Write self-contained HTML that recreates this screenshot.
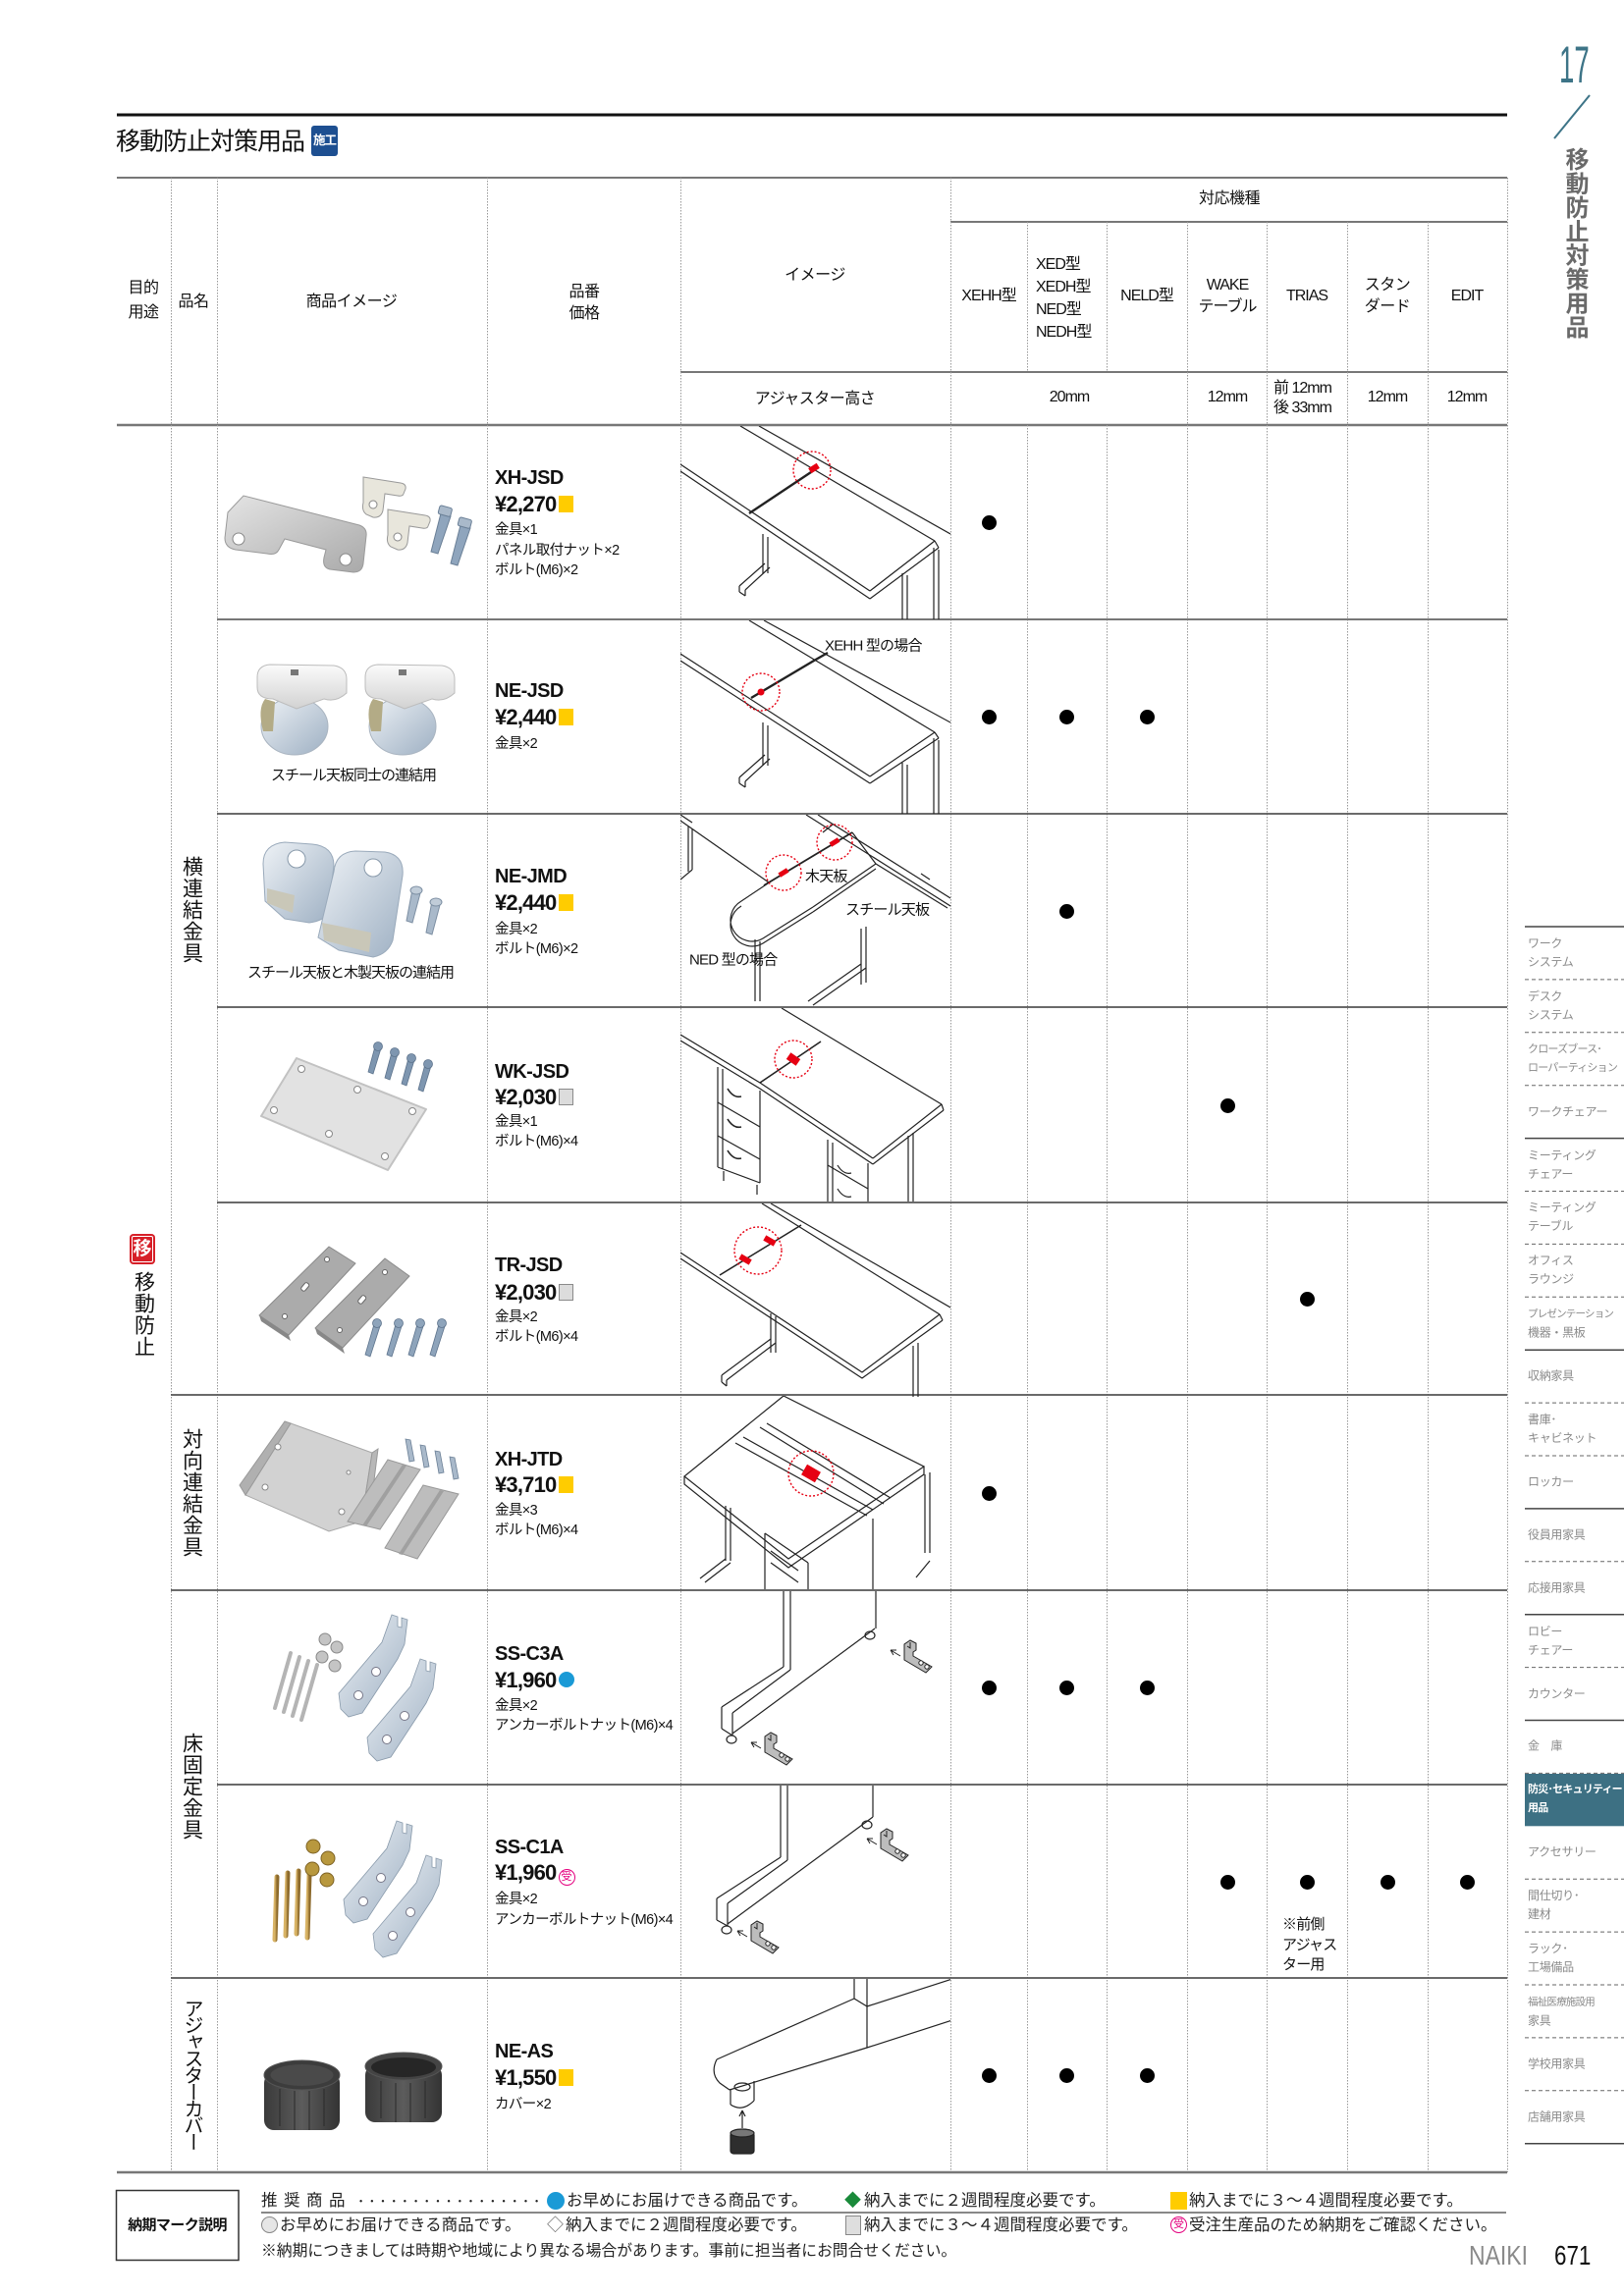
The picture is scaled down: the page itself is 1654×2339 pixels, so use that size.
<!DOCTYPE html>
<html><head><meta charset="utf-8">
<style>
html,body{margin:0;padding:0;background:#fff;}
#p{position:relative;width:1654px;height:2339px;overflow:hidden;background:#fff;font-family:"Liberation Sans","Noto Sans CJK JP",sans-serif;color:#111;}
.t{position:absolute;white-space:nowrap;line-height:1;}
.c{transform:translate(-50%,-50%);}
.l{transform:translateY(-50%);}
.h{font-size:16px;letter-spacing:-0.5px;}
.code{font-size:20px;font-weight:bold;letter-spacing:-0.6px;}
.price{font-size:22px;font-weight:bold;letter-spacing:-0.8px;}
.det{font-size:14.5px;letter-spacing:-0.6px;}
.v{position:absolute;writing-mode:vertical-rl;font-size:21px;line-height:21px;letter-spacing:1px;white-space:nowrap;}
.nav{position:absolute;left:1556px;font-size:12px;color:#8a8a8a;line-height:19px;letter-spacing:-0.3px;white-space:nowrap;transform:translateY(-50%);}
.dot{position:absolute;width:15px;height:15px;border-radius:50%;background:#000;}
.my{display:inline-block;width:15px;height:17px;background:#ffcc00;vertical-align:-1px;margin-left:2px;}
.mg{display:inline-block;width:13px;height:15px;background:#dcdcdc;border:1px solid #8a8a8a;vertical-align:-1px;margin-left:2px;}
.mb{display:inline-block;width:16px;height:16px;border-radius:50%;background:#1a9ad6;vertical-align:0px;margin-left:2px;}
.mj{display:inline-block;width:15px;height:15px;border-radius:50%;border:1.5px solid #e4007f;color:#e4007f;font-size:11px;line-height:15px;text-align:center;vertical-align:0px;margin-left:2px;font-weight:normal;letter-spacing:0;}
.lg{position:absolute;white-space:nowrap;line-height:1;font-size:16.5px;transform:translateY(-50%);color:#222;}
</style></head><body><div id="p">

<svg width="1654" height="2339" style="position:absolute;left:0;top:0" xmlns="http://www.w3.org/2000/svg">
<defs>
<clipPath id="cc"><rect x="0" y="0" width="275" height="197"/></clipPath>
<linearGradient id="gm" x1="0" y1="0" x2="1" y2="1"><stop offset="0" stop-color="#e4e4e4"/><stop offset="1" stop-color="#a9a9a9"/></linearGradient>
<linearGradient id="gb" x1="0" y1="0" x2="1" y2="1"><stop offset="0" stop-color="#eef2f6"/><stop offset="1" stop-color="#9eb0c3"/></linearGradient>
<linearGradient id="gw" x1="0" y1="0" x2="0" y2="1"><stop offset="0" stop-color="#fbfbfb"/><stop offset="1" stop-color="#d2d2d2"/></linearGradient>
<linearGradient id="gd" x1="0" y1="0" x2="1" y2="0"><stop offset="0" stop-color="#3a3a3a"/><stop offset="0.5" stop-color="#5c5c5c"/><stop offset="1" stop-color="#333"/></linearGradient>
<linearGradient id="gg" x1="0" y1="0" x2="1" y2="0"><stop offset="0" stop-color="#d9b466"/><stop offset="1" stop-color="#8c6a2c"/></linearGradient>
<g id="br" stroke="#222" stroke-width="1"><path d="M8 0 L14 3 L14 10 L11 12 L11 16 L30 27 L24 33 L2 20 L2 4 Z" fill="#bdbdbd"/><path d="M5 6 L8 8 L8 2" fill="none"/><circle cx="19" cy="23" r="2.2" fill="#fff"/><circle cx="25" cy="27" r="2.2" fill="#fff"/><path d="M-2 16 L-12 10 M-12 10 L-6 10 M-12 10 L-9 15" fill="none"/></g>
<g id="hook"><path d="M14 0 L20 2 L20 12 L24 13 L24 3 L30 5 L27 30 L20 45 L-16 100 L-30 104 L-38 96 L-40 80 L4 28 Z" fill="url(#gb)" stroke="#8899aa" stroke-width="0.8"/><circle cx="-2" cy="58" r="4.5" fill="#fff" stroke="#778"/><circle cx="-20" cy="82" r="4.5" fill="#fff" stroke="#778"/></g>
</defs>

<!-- title line -->
<line x1="119" y1="117" x2="1535" y2="117" stroke="#111" stroke-width="3"/>
<!-- table header lines -->
<line x1="119" y1="181" x2="1535" y2="181" stroke="#777" stroke-width="2"/>
<line x1="968" y1="226" x2="1535" y2="226" stroke="#777" stroke-width="2"/>
<line x1="693" y1="379" x2="1535" y2="379" stroke="#777" stroke-width="2"/>
<line x1="119" y1="433" x2="1535" y2="433" stroke="#777" stroke-width="2.5"/>

<!-- vertical dotted -->
<g stroke="#999" stroke-width="1" stroke-dasharray="1.5 1.5">
<line x1="174.5" y1="181" x2="174.5" y2="2213"/>
<line x1="221.5" y1="181" x2="221.5" y2="2213"/>
<line x1="496.5" y1="181" x2="496.5" y2="2213"/>
<line x1="693.5" y1="181" x2="693.5" y2="2213"/>
<line x1="968.5" y1="181" x2="968.5" y2="2213"/>
<line x1="1046.5" y1="226" x2="1046.5" y2="379"/><line x1="1046.5" y1="433" x2="1046.5" y2="2213"/>
<line x1="1127.5" y1="226" x2="1127.5" y2="379"/><line x1="1127.5" y1="433" x2="1127.5" y2="2213"/>
<line x1="1209.5" y1="226" x2="1209.5" y2="2213"/>
<line x1="1290.5" y1="226" x2="1290.5" y2="2213"/>
<line x1="1372.5" y1="226" x2="1372.5" y2="2213"/>
<line x1="1454.5" y1="226" x2="1454.5" y2="2213"/>
<line x1="1535.5" y1="181" x2="1535.5" y2="2213"/>
</g>

<!-- row lines -->
<g stroke="#555" stroke-width="1.8">
<line x1="221" y1="631" x2="1535" y2="631" stroke="#777" stroke-width="2"/>
<line x1="221" y1="829" x2="1535" y2="829"/>
<line x1="221" y1="1026" x2="1535" y2="1026"/>
<line x1="221" y1="1225" x2="1535" y2="1225"/>
<line x1="174" y1="1421" x2="1535" y2="1421"/>
<line x1="174" y1="1620" x2="1535" y2="1620"/>
<line x1="221" y1="1818" x2="1535" y2="1818"/>
<line x1="174" y1="2015" x2="1535" y2="2015"/>
</g>
<line x1="119" y1="2213" x2="1535" y2="2213" stroke="#777" stroke-width="2.5"/>

<!-- right slash -->
<line x1="1619" y1="97" x2="1583" y2="141" stroke="#3d7487" stroke-width="2"/>

<!-- nav lines -->
<g stroke="#444" stroke-width="1.5">
<line x1="1553" y1="944" x2="1654" y2="944"/>
<line x1="1553" y1="1159.6" x2="1654" y2="1159.6"/>
<line x1="1553" y1="1375.2" x2="1654" y2="1375.2"/>
<line x1="1553" y1="1536.9" x2="1654" y2="1536.9"/>
<line x1="1553" y1="1644.7" x2="1654" y2="1644.7"/>
<line x1="1553" y1="1752.5" x2="1654" y2="1752.5"/>
<line x1="1553" y1="2183.7" x2="1654" y2="2183.7"/>
</g>
<g stroke="#666" stroke-width="1" stroke-dasharray="4 3">
<line x1="1553" y1="997.9" x2="1654" y2="997.9"/>
<line x1="1553" y1="1051.8" x2="1654" y2="1051.8"/>
<line x1="1553" y1="1105.7" x2="1654" y2="1105.7"/>
<line x1="1553" y1="1213.5" x2="1654" y2="1213.5"/>
<line x1="1553" y1="1267.4" x2="1654" y2="1267.4"/>
<line x1="1553" y1="1321.3" x2="1654" y2="1321.3"/>
<line x1="1553" y1="1429.1" x2="1654" y2="1429.1"/>
<line x1="1553" y1="1483" x2="1654" y2="1483"/>
<line x1="1553" y1="1590.8" x2="1654" y2="1590.8"/>
<line x1="1553" y1="1698.6" x2="1654" y2="1698.6"/>
<line x1="1553" y1="1806.4" x2="1654" y2="1806.4"/>
<line x1="1553" y1="1914.2" x2="1654" y2="1914.2"/>
<line x1="1553" y1="1968.1" x2="1654" y2="1968.1"/>
<line x1="1553" y1="2022" x2="1654" y2="2022"/>
<line x1="1553" y1="2075.9" x2="1654" y2="2075.9"/>
<line x1="1553" y1="2129.8" x2="1654" y2="2129.8"/>
</g>
<rect x="1553" y="1807" width="101" height="53.3" fill="#3d7083"/>

<!-- legend -->
<rect x="118.5" y="2231.5" width="124.5" height="71" fill="none" stroke="#333" stroke-width="1.5"/>
<line x1="266" y1="2254" x2="1534" y2="2254" stroke="#888" stroke-width="2"/>

<!-- ============ DRAWINGS ============ -->
<!-- row1 -->
<g transform="translate(693,434)" clip-path="url(#cc)" stroke="#222" stroke-width="1.2" fill="none">
<path d="M61 0 L259 117 M80 0 L275 110 M0 39 L193 168 M0 46 L193 176 M193 168 L259 117 M193 176 L263 124 M259 117 L263 124"/>
<path d="M70 89 L136 45" stroke-width="2.4"/>
<path d="M84 110 V150 M89 113 V150 M60 163 L86 140 M66 167 L91 144 M60 163 V169 M66 167 V173 M60 169 L66 173"/>
<path d="M226 150 V198 M231 152 V198 M258 124 V198 M263 126 V198"/>
<rect x="-5" y="-3" width="10" height="6" transform="translate(136,43) rotate(-32)" fill="#e60012" stroke="none"/>
<circle cx="134" cy="45" r="19" stroke="#e60012" stroke-width="1.4" stroke-dasharray="2 2"/>
</g>
<!-- row2 -->
<g transform="translate(693,632)" clip-path="url(#cc)" stroke="#222" stroke-width="1.2" fill="none">
<path d="M70 0 L259 114 M85 0 L275 104 M0 34 L193 159 M0 41 L193 166 M193 159 L259 114 M193 166 L263 120 M259 114 L263 120"/>
<path d="M72 79 L136 41 L150 33" stroke-width="2.4"/>
<path d="M84 104 V148 M89 107 V148 M60 160 L86 137 M66 164 L91 141 M60 160 V166 M66 164 V170 M60 166 L66 170"/>
<path d="M226 145 V198 M231 147 V198 M258 120 V198 M263 122 V198"/>
<circle cx="82" cy="73" r="3.5" fill="#e60012" stroke="none"/>
<circle cx="82" cy="73" r="19" stroke="#e60012" stroke-width="1.4" stroke-dasharray="2 2"/>
</g>
<!-- row3 -->
<g transform="translate(693,830)" clip-path="url(#cc)" stroke="#222" stroke-width="1.2" fill="none">
<path d="M0 6 L90 69 M0 0 L12 8 M128 0 L275 93 M140 0 L275 85"/>
<path d="M85 72 L175 18" stroke-width="1.8"/>
<path d="M95 66 L62 88 A20 20 0 0 0 84 126 L135 94 M62 93 A20 20 0 0 0 84 131 L135 99"/>
<path d="M135 94 L199 50 L272 95 M135 99 L199 55 M175 18 L199 50"/>
<path d="M76 127 V190 M81 129 V190 M184 116 V173 M189 114 V171 M130 190 L184 152 M135 194 L189 156"/>
<path d="M8 12 V58 M12 14 V56 M0 66 L12 56"/>
<path d="M145 18 L155 10 M245 60 L254 66"/>
<rect x="-5" y="-2.5" width="10" height="5" transform="translate(105,59) rotate(-32)" fill="#e60012" stroke="none"/>
<rect x="-5" y="-2.5" width="10" height="5" transform="translate(157,28) rotate(-32)" fill="#e60012" stroke="none"/>
<circle cx="105" cy="59" r="18" stroke="#e60012" stroke-width="1.4" stroke-dasharray="2 2"/>
<circle cx="157" cy="28" r="18" stroke="#e60012" stroke-width="1.4" stroke-dasharray="2 2"/>
</g>
<!-- row4 -->
<g transform="translate(693,1027)" clip-path="url(#cc)" stroke="#222" stroke-width="1.2" fill="none">
<path d="M0 27 L81 76 M0 33 L81 82 M103 0 L266 98 M81 76 L196 153 M81 82 L196 159 M196 153 L266 98 M196 159 L268 104 M266 98 L268 104"/>
<path d="M81 76 L143 34" stroke-width="1.6"/>
<path d="M38 60 V162 M43 62 V164 M81 84 V178 M38 162 L81 178 M38 96 L81 121 M38 130 L81 154"/>
<path d="M48 82 q6 10 14 8 M48 113 q6 10 14 8 M48 145 q6 10 14 8" stroke-width="1.6"/>
<path d="M44 166 V176 M78 180 V190"/>
<path d="M150 134 V198 M155 137 V198 M191 158 V198 M150 160 L191 184 M160 160 q6 10 14 8 M160 184 q6 10 14 8" />
<path d="M232 130 V198 M237 127 V198"/>
<rect x="-6" y="-4" width="12" height="8" transform="translate(115,52) rotate(35)" fill="#e60012" stroke="none"/>
<circle cx="115" cy="52" r="19" stroke="#e60012" stroke-width="1.4" stroke-dasharray="2 2"/>
</g>
<!-- row5 -->
<g transform="translate(693,1226)" clip-path="url(#cc)" stroke="#222" stroke-width="1.2" fill="none">
<path d="M0 50 L185 172 M0 56 L185 178 M83 0 L264 113 M92 0 L275 106 M185 172 L264 113 M185 178 L267 119 M264 113 L267 119"/>
<path d="M40 73 L123 22" stroke-width="1.5"/>
<path d="M92 112 V152 M97 115 V152 M42 175 L92 138 M47 180 L97 142 M42 175 V182 M47 180 V186 M42 182 L47 186"/>
<path d="M237 145 V198 M242 142 V198"/>
<rect x="-6" y="-3" width="12" height="6" transform="translate(66,57) rotate(30)" fill="#e60012" stroke="none"/>
<rect x="-6" y="-3" width="12" height="6" transform="translate(91,38) rotate(30)" fill="#e60012" stroke="none"/>
<circle cx="79" cy="48" r="24" stroke="#e60012" stroke-width="1.4" stroke-dasharray="2 2"/>
</g>
<!-- row6 -->
<g transform="translate(693,1422)" clip-path="url(#cc)" stroke="#222" stroke-width="1.2" fill="none">
<path d="M105 0 L248 72 L110 166 L4 82 Z M4 82 V90 L110 175 L248 80 V72"/>
<path d="M64 42 L196 116 M81 32 L207 110 M56 48 L190 122 M88 28 L214 104"/>
<path d="M46 112 V168 M51 114 V168 M20 186 L46 166 M25 190 L51 170"/>
<path d="M254 78 V160 M249 80 V160 M240 185 L254 168"/>
<path d="M86 140 V198 M130 170 V198 M196 125 V198 M86 140 L130 170 M92 158 L120 178 M92 170 L120 190"/>
<rect x="-8" y="-6" width="16" height="12" transform="translate(133,79) rotate(30)" fill="#e60012" stroke="none"/>
<circle cx="133" cy="79" r="23" stroke="#e60012" stroke-width="1.4" stroke-dasharray="2 2"/>
</g>
<!-- row7 -->
<g transform="translate(693,1621)" clip-path="url(#cc)" stroke="#222" stroke-width="1.2" fill="none">
<path d="M105 0 V77 M112 0 V80 M105 77 L42 118 M112 80 L53 124 M42 118 V140 M53 124 V147 M42 140 L53 147 M53 145 L198 38 M199 0 V38"/>
<ellipse cx="52" cy="151" rx="5" ry="4"/><ellipse cx="193" cy="45" rx="5" ry="4"/>
<use href="#br" transform="translate(226,50)"/>
<use href="#br" transform="translate(84,144)"/>
</g>
<!-- row8 -->
<g transform="translate(693,1819)" clip-path="url(#cc)" stroke="#222" stroke-width="1.2" fill="none">
<path d="M102 0 V73 M109 0 V76 M102 73 L37 115 M109 76 L48 120 M37 115 V137 M48 120 V143 M37 137 L48 143 M48 141 L196 32 M196 0 V32"/>
<ellipse cx="47" cy="147" rx="5" ry="4"/><ellipse cx="190" cy="40" rx="5" ry="4"/>
<use href="#br" transform="translate(202,44)"/>
<use href="#br" transform="translate(70,138)"/>
</g>
<!-- row9 -->
<g transform="translate(693,2016)" clip-path="url(#cc)" stroke="#222" stroke-width="1.2" fill="none">
<path d="M177 0 V20 M190 0 V70 M37 82 L177 20 M190 28 L277 0 M50 113 L190 70 L277 42 M37 82 Q30 96 40 106 L50 113 M177 20 L190 28"/>
<path d="M51 112 V128 M75 104 V124 M51 128 Q63 136 75 124"/>
<ellipse cx="63" cy="110" rx="8" ry="4"/>
<path d="M63 152 V134 M63 134 L60 140 M63 134 L66 140"/>
<rect x="51" y="156" width="24" height="22" rx="3" fill="#2e2e2e"/>
<ellipse cx="63" cy="157" rx="12" ry="4" fill="#777"/>
</g>

<!-- ============ PHOTOS ============ -->
<!-- row1 -->
<g>
<path d="M232 522 L248 505 L366 535 Q374 538 373 546 L370 574 Q369 583 360 583 L336 580 Q328 578 330 568 L332 560 L290 549 L284 560 Q281 566 272 564 L240 560 Q229 558 229 548 Z" fill="url(#gm)" stroke="#9a9a9a"/>
<circle cx="243" cy="549" r="6" fill="#fff" stroke="#888"/><circle cx="352" cy="570" r="6" fill="#fff" stroke="#888"/>
<path d="M370 486 L408 492 Q414 493 413 498 L411 503 Q410 506 405 505 L392 503 L390 520 Q388 528 380 527 L373 524 Q368 520 370 512 Z" fill="#e8e6dc" stroke="#999"/>
<circle cx="380" cy="514" r="4" fill="#fff" stroke="#888"/>
<path d="M395 519 L433 525 Q439 526 438 531 L436 536 Q435 539 430 538 L417 536 L415 553 Q413 561 405 560 L398 557 Q393 553 395 545 Z" fill="#e8e6dc" stroke="#999"/>
<circle cx="405" cy="547" r="4" fill="#fff" stroke="#888"/>
<path d="M449 523 L459 526 L446 564 L439 562 Z" fill="#8fa5bd" stroke="#6a7f96"/><rect x="447" y="516" width="13" height="9" rx="2" fill="#a9b9ca" stroke="#6a7f96" transform="rotate(15 453 520)"/>
<path d="M469 535 L479 538 L466 576 L459 574 Z" fill="#8fa5bd" stroke="#6a7f96"/><rect x="467" y="528" width="13" height="9" rx="2" fill="#a9b9ca" stroke="#6a7f96" transform="rotate(15 473 532)"/>
</g>
<!-- row2 -->
<g id="clip1">
<ellipse cx="300" cy="740" rx="34" ry="29" fill="url(#gb)" stroke="#a9b4c0"/>
<path d="M270 712 Q262 722 268 745 L278 745 L280 715 Z" fill="#b3ab86"/>
<path d="M262 690 Q262 678 275 677 L340 678 Q353 680 353 692 L353 706 Q342 716 330 712 L302 722 L278 712 Q262 712 262 700 Z" fill="url(#gw)" stroke="#bcbcbc"/>
<rect x="296" y="682" width="8" height="6" fill="#777"/>
</g>
<use href="#clip1" transform="translate(110,0)"/>
<!-- row3 -->
<g>
<path d="M268 880 Q268 860 290 858 L318 860 Q340 862 340 882 L334 930 Q330 938 315 940 L290 936 L270 918 Z" fill="url(#gb)" stroke="#9aaabb"/>
<circle cx="302" cy="875" r="9" fill="#fff" stroke="#8899aa"/>
<path d="M272 905 L300 912 L298 930 L272 920 Z" fill="#c9c7b8"/>
<path d="M340 888 Q342 868 362 867 L392 868 Q412 871 410 892 L400 958 Q395 972 380 975 L345 968 L324 955 Z" fill="url(#gb)" stroke="#9aaabb"/>
<circle cx="380" cy="884" r="9" fill="#fff" stroke="#8899aa"/>
<path d="M328 940 L378 950 L376 970 L330 958 Z" fill="#c9c7b8"/>
<path d="M420 906 L428 910 L420 940 L414 938 Z" fill="#a9b9ca" stroke="#7d8fa3"/><ellipse cx="424" cy="907" rx="6" ry="4" fill="#c0ccd8" stroke="#7d8fa3"/>
<path d="M440 918 L448 922 L440 952 L434 950 Z" fill="#a9b9ca" stroke="#7d8fa3"/><ellipse cx="444" cy="919" rx="6" ry="4" fill="#c0ccd8" stroke="#7d8fa3"/>
</g>
<!-- row4 -->
<g>
<path d="M302 1078 L434 1130 L395 1192 L266 1137 Z" fill="#e2e2e2" stroke="#c2c2c2" stroke-width="2" stroke-linejoin="round"/>
<g fill="#fff" stroke="#888"><circle cx="307" cy="1089" r="3.5"/><circle cx="364" cy="1110" r="3.5"/><circle cx="420" cy="1132" r="3.5"/><circle cx="279" cy="1131" r="3.5"/><circle cx="335" cy="1155" r="3.5"/><circle cx="392" cy="1178" r="3.5"/></g>
<g fill="#7e96b0" stroke="#5d738c" stroke-width="0.8">
<path d="M382 1066 L388 1068 L380 1094 L375 1092 Z"/><circle cx="385" cy="1066" r="4.5"/>
<path d="M399 1072 L405 1074 L397 1100 L392 1098 Z"/><circle cx="402" cy="1072" r="4.5"/>
<path d="M416 1078 L422 1080 L414 1106 L409 1104 Z"/><circle cx="419" cy="1078" r="4.5"/>
<path d="M433 1084 L439 1086 L431 1112 L426 1110 Z"/><circle cx="436" cy="1084" r="4.5"/>
</g>
</g>
<!-- row5 -->
<g>
<path d="M335 1270 L362 1287 L294 1360 L264 1340 Z" fill="#ababab" stroke="#8a8a8a" stroke-linejoin="round"/>
<path d="M264 1340 L294 1360 L296 1366 L266 1346 Z" fill="#888"/>
<path d="M392 1282 L417 1300 L349 1373 L321 1353 Z" fill="#ababab" stroke="#8a8a8a" stroke-linejoin="round"/>
<path d="M321 1353 L349 1373 L351 1379 L323 1359 Z" fill="#888"/>
<g fill="#fff" stroke="#666"><circle cx="333" cy="1283" r="2.5"/><rect x="306" y="1309" width="9" height="5" rx="2" transform="rotate(-50 310 1311)"/><circle cx="290" cy="1341" r="2.5"/><circle cx="392" cy="1296" r="2.5"/><rect x="364" y="1322" width="9" height="5" rx="2" transform="rotate(-50 368 1324)"/><circle cx="346" cy="1355" r="2.5"/></g>
<g fill="#8ea4bb" stroke="#5d738c" stroke-width="0.8">
<path d="M381 1349 L387 1351 L377 1382 L372 1380 Z"/><circle cx="384" cy="1348" r="4.5"/>
<path d="M403 1349 L409 1351 L399 1382 L394 1380 Z"/><circle cx="406" cy="1348" r="4.5"/>
<path d="M425 1349 L431 1351 L421 1382 L416 1380 Z"/><circle cx="428" cy="1348" r="4.5"/>
<path d="M447 1349 L453 1351 L443 1382 L438 1380 Z"/><circle cx="450" cy="1348" r="4.5"/>
</g>
</g>
<!-- row6 -->
<g>
<path d="M296 1450 L379 1480 L368 1550 L335 1560 L250 1523 Z" fill="#d2d2d2" stroke="#a8a8a8"/>
<path d="M296 1450 L290 1448 L244 1513 L250 1523 Z" fill="#b0b0b0" stroke="#999"/>
<path d="M379 1480 L385 1476 L376 1548 L368 1550 Z" fill="#b8b8b8" stroke="#999"/>
<g fill="#fff" stroke="#888"><circle cx="283" cy="1474" r="3"/><circle cx="270" cy="1515" r="3"/><circle cx="348" cy="1540" r="3"/><circle cx="355" cy="1500" r="2"/></g>
<path d="M395 1487 L428 1497 L387 1558 L354 1550 Z" fill="#bdbdbd" stroke="#999"/>
<path d="M410 1492 L414 1493 L373 1555 L369 1554 Z" fill="#a0a0a0"/>
<path d="M431 1513 L467 1522 L425 1588 L392 1577 Z" fill="#bdbdbd" stroke="#999"/>
<path d="M448 1518 L452 1519 L410 1584 L406 1583 Z" fill="#a0a0a0"/>
<g fill="#a9b9ca" stroke="#6d8197" stroke-width="0.8">
<path d="M413 1466 L418 1467 L422 1488 L417 1489 Z"/><path d="M428 1472 L433 1473 L437 1494 L432 1495 Z"/><path d="M443 1478 L448 1479 L452 1500 L447 1501 Z"/><path d="M458 1484 L463 1485 L467 1506 L462 1507 Z"/>
</g>
</g>
<!-- row7 -->
<g>
<g stroke="#b4b4b4" stroke-width="4" stroke-linecap="round"><line x1="296" y1="1684" x2="280" y2="1740"/><line x1="305" y1="1688" x2="289" y2="1744"/><line x1="314" y1="1692" x2="298" y2="1748"/><line x1="323" y1="1696" x2="307" y2="1752"/></g>
<g fill="#c4c4c4" stroke="#888"><circle cx="331" cy="1670" r="6"/><circle cx="343" cy="1678" r="6"/><circle cx="328" cy="1688" r="6"/><circle cx="341" cy="1697" r="6"/></g>
<use href="#hook" transform="translate(385,1645)"/>
<use href="#hook" transform="translate(414,1690)"/>
</g>
<!-- row8 -->
<g>
<g stroke="url(#gg)" stroke-width="5" stroke-linecap="round"><line x1="282" y1="1912" x2="280" y2="1976"/><line x1="293" y1="1908" x2="291" y2="1972"/><line x1="304" y1="1906" x2="302" y2="1970"/><line x1="315" y1="1910" x2="313" y2="1974"/></g>
<g fill="#b8983e" stroke="#7d6224"><circle cx="319" cy="1881" r="7"/><circle cx="334" cy="1893" r="7"/><circle cx="318" cy="1904" r="7"/><circle cx="333" cy="1915" r="7"/></g>
<use href="#hook" transform="translate(390,1855)"/>
<use href="#hook" transform="translate(420,1890)"/>
</g>
<!-- row9 -->
<g>
<rect x="269" y="2112" width="77" height="58" rx="10" fill="url(#gd)"/>
<ellipse cx="307.5" cy="2114" rx="38.5" ry="15" fill="#3c3c3c" stroke="#555"/>
<ellipse cx="307.5" cy="2114" rx="32" ry="11" fill="#4a4a4a"/>
<rect x="372" y="2104" width="78" height="58" rx="10" fill="url(#gd)"/>
<ellipse cx="411" cy="2105" rx="39" ry="14" fill="#444" stroke="#555"/>
<ellipse cx="411" cy="2106" rx="33" ry="10" fill="#262626"/>
<g stroke="#2a2a2a" stroke-width="1"><line x1="285" y1="2128" x2="285" y2="2166"/><line x1="300" y1="2130" x2="300" y2="2170"/><line x1="315" y1="2130" x2="315" y2="2170"/><line x1="330" y1="2128" x2="330" y2="2166"/><line x1="388" y1="2120" x2="388" y2="2158"/><line x1="403" y1="2122" x2="403" y2="2162"/><line x1="418" y1="2122" x2="418" y2="2162"/><line x1="433" y1="2120" x2="433" y2="2158"/></g>
</g>
</svg>

<!-- ===== TEXT ===== -->
<div class="t l" style="left:118px;top:145px;font-size:25px;letter-spacing:-1px;">移動防止対策用品</div>
<div class="t" style="left:317px;top:128px;width:27px;height:31px;background:#1d4f91;border-radius:3px;color:#fff;font-size:12.5px;font-weight:bold;line-height:31px;text-align:center;letter-spacing:-1px;">施工</div>

<div class="t" style="left:1588px;top:40px;font-size:53px;color:#3d7487;transform:scaleX(0.52);transform-origin:left top;">17</div>
<div class="v" style="left:1591px;top:150px;font-size:24px;line-height:24px;letter-spacing:0.4px;font-weight:bold;color:#6a6a6a;">移動防止対策用品</div>

<!-- header -->
<div class="t c h" style="left:146px;top:294px;">目的</div>
<div class="t c h" style="left:146px;top:319px;">用途</div>
<div class="t c h" style="left:197px;top:308px;">品名</div>
<div class="t c h" style="left:358px;top:308px;">商品イメージ</div>
<div class="t c h" style="left:595px;top:298px;">品番</div>
<div class="t c h" style="left:595px;top:320px;">価格</div>
<div class="t c h" style="left:830px;top:281px;">イメージ</div>
<div class="t c h" style="left:830px;top:407px;">アジャスター高さ</div>
<div class="t c h" style="left:1252px;top:203px;">対応機種</div>
<div class="t c h" style="left:1007px;top:302px;letter-spacing:-1px;">XEHH型</div>
<div class="t h" style="left:1055px;top:258px;line-height:23px;letter-spacing:-1px;">XED型<br>XEDH型<br>NED型<br>NEDH型</div>
<div class="t c h" style="left:1168px;top:302px;letter-spacing:-1px;">NELD型</div>
<div class="t c h" style="left:1250px;top:302px;line-height:22px;text-align:center;letter-spacing:-1px;">WAKE<br>テーブル</div>
<div class="t c h" style="left:1331px;top:302px;letter-spacing:-1px;">TRIAS</div>
<div class="t c h" style="left:1413px;top:302px;line-height:22px;text-align:left;">スタン<br>ダード</div>
<div class="t c h" style="left:1494px;top:302px;letter-spacing:-1px;">EDIT</div>
<div class="t c h" style="left:1089px;top:405px;letter-spacing:-1px;">20mm</div>
<div class="t c h" style="left:1250px;top:405px;letter-spacing:-1px;">12mm</div>
<div class="t h" style="left:1297px;top:386px;line-height:20px;letter-spacing:-1px;">前 12mm<br>後 33mm</div>
<div class="t c h" style="left:1413px;top:405px;letter-spacing:-1px;">12mm</div>
<div class="t c h" style="left:1494px;top:405px;letter-spacing:-1px;">12mm</div>

<!-- purpose column -->
<div class="t" style="left:132px;top:1257px;width:26px;height:31px;background:#d71f28;border-radius:4px;box-shadow:inset 0 0 0 2px #d71f28, inset 0 0 0 3px #fff;color:#fff;font-size:19px;font-weight:bold;line-height:31px;text-align:center;">移</div>
<div class="v" style="left:135.5px;top:1295px;">移動防止</div>

<!-- name column -->
<div class="v" style="left:184.5px;top:872px;">横連結金具</div>
<div class="v" style="left:184.5px;top:1455px;">対向連結金具</div>
<div class="v" style="left:184.5px;top:1765px;">床固定金具</div>
<div class="v" style="left:185px;top:2036px;font-size:20px;line-height:20px;letter-spacing:-3px;">アジャスターカバー</div>

<!-- captions -->
<div class="t c" style="left:360px;top:790px;font-size:15px;letter-spacing:-1px;">スチール天板同士の連結用</div>
<div class="t c" style="left:357px;top:991px;font-size:15px;letter-spacing:-1px;">スチール天板と木製天板の連結用</div>

<!-- drawing labels -->
<div class="t l" style="left:840px;top:658px;font-size:15px;letter-spacing:-0.8px;">XEHH 型の場合</div>
<div class="t l" style="left:820px;top:893px;font-size:15px;letter-spacing:-0.8px;">木天板</div>
<div class="t l" style="left:861px;top:927px;font-size:15px;letter-spacing:-0.8px;">スチール天板</div>
<div class="t l" style="left:702px;top:978px;font-size:15px;letter-spacing:-0.8px;">NED 型の場合</div>

<!-- product text -->
<div class="t l code" style="left:504px;top:487px;">XH-JSD</div>
<div class="t l price" style="left:504px;top:514px;">¥2,270<span class="my"></span></div>
<div class="t l det" style="left:504px;top:540px;">金具×1</div>
<div class="t l det" style="left:504px;top:561px;">パネル取付ナット×2</div>
<div class="t l det" style="left:504px;top:581px;">ボルト(M6)×2</div>

<div class="t l code" style="left:504px;top:704px;">NE-JSD</div>
<div class="t l price" style="left:504px;top:731px;">¥2,440<span class="my"></span></div>
<div class="t l det" style="left:504px;top:758px;">金具×2</div>

<div class="t l code" style="left:504px;top:893px;">NE-JMD</div>
<div class="t l price" style="left:504px;top:920px;">¥2,440<span class="my"></span></div>
<div class="t l det" style="left:504px;top:947px;">金具×2</div>
<div class="t l det" style="left:504px;top:967px;">ボルト(M6)×2</div>

<div class="t l code" style="left:504px;top:1092px;">WK-JSD</div>
<div class="t l price" style="left:504px;top:1118px;">¥2,030<span class="mg"></span></div>
<div class="t l det" style="left:504px;top:1143px;">金具×1</div>
<div class="t l det" style="left:504px;top:1163px;">ボルト(M6)×4</div>

<div class="t l code" style="left:504px;top:1289px;">TR-JSD</div>
<div class="t l price" style="left:504px;top:1317px;">¥2,030<span class="mg"></span></div>
<div class="t l det" style="left:504px;top:1342px;">金具×2</div>
<div class="t l det" style="left:504px;top:1362px;">ボルト(M6)×4</div>

<div class="t l code" style="left:504px;top:1487px;">XH-JTD</div>
<div class="t l price" style="left:504px;top:1513px;">¥3,710<span class="my"></span></div>
<div class="t l det" style="left:504px;top:1539px;">金具×3</div>
<div class="t l det" style="left:504px;top:1559px;">ボルト(M6)×4</div>

<div class="t l code" style="left:504px;top:1685px;">SS-C3A</div>
<div class="t l price" style="left:504px;top:1712px;">¥1,960<span class="mb"></span></div>
<div class="t l det" style="left:504px;top:1738px;">金具×2</div>
<div class="t l det" style="left:504px;top:1758px;">アンカーボルトナット(M6)×4</div>

<div class="t l code" style="left:504px;top:1882px;">SS-C1A</div>
<div class="t l price" style="left:504px;top:1909px;">¥1,960<span class="mj">受</span></div>
<div class="t l det" style="left:504px;top:1935px;">金具×2</div>
<div class="t l det" style="left:504px;top:1956px;">アンカーボルトナット(M6)×4</div>

<div class="t l code" style="left:504px;top:2090px;">NE-AS</div>
<div class="t l price" style="left:504px;top:2117px;">¥1,550<span class="my"></span></div>
<div class="t l det" style="left:504px;top:2144px;">カバー×2</div>

<!-- dots -->
<div class="dot" style="left:999.5px;top:524.5px;"></div>
<div class="dot" style="left:999.5px;top:722.5px;"></div>
<div class="dot" style="left:1079px;top:722.5px;"></div>
<div class="dot" style="left:1161px;top:722.5px;"></div>
<div class="dot" style="left:1079px;top:920.5px;"></div>
<div class="dot" style="left:1242.5px;top:1118.5px;"></div>
<div class="dot" style="left:1324px;top:1315.5px;"></div>
<div class="dot" style="left:999.5px;top:1513.5px;"></div>
<div class="dot" style="left:999.5px;top:1711.5px;"></div>
<div class="dot" style="left:1079px;top:1711.5px;"></div>
<div class="dot" style="left:1161px;top:1711.5px;"></div>
<div class="dot" style="left:1242.5px;top:1909.5px;"></div>
<div class="dot" style="left:1324px;top:1909.5px;"></div>
<div class="dot" style="left:1406px;top:1909.5px;"></div>
<div class="dot" style="left:1487px;top:1909.5px;"></div>
<div class="dot" style="left:999.5px;top:2106.5px;"></div>
<div class="dot" style="left:1079px;top:2106.5px;"></div>
<div class="dot" style="left:1161px;top:2106.5px;"></div>
<div class="t" style="left:1306px;top:1951px;font-size:15px;line-height:20.5px;letter-spacing:-0.8px;">※前側<br>アジャス<br>ター用</div>

<!-- nav -->
<div class="nav" style="top:971px;">ワーク<br>システム</div>
<div class="nav" style="top:1025px;">デスク<br>システム</div>
<div class="nav" style="top:1079px;font-size:11px;letter-spacing:-0.8px;">クローズブース･<br>ローパーティション</div>
<div class="nav" style="top:1133px;">ワークチェアー</div>
<div class="nav" style="top:1187px;">ミーティング<br>チェアー</div>
<div class="nav" style="top:1240px;">ミーティング<br>テーブル</div>
<div class="nav" style="top:1294px;">オフィス<br>ラウンジ</div>
<div class="nav" style="top:1348px;"><span style="font-size:10.5px;letter-spacing:-0.8px;">プレゼンテーション</span><br>機器・黒板</div>
<div class="nav" style="top:1402px;">収納家具</div>
<div class="nav" style="top:1456px;">書庫･<br>キャビネット</div>
<div class="nav" style="top:1510px;">ロッカー</div>
<div class="nav" style="top:1564px;">役員用家具</div>
<div class="nav" style="top:1618px;">応接用家具</div>
<div class="nav" style="top:1672px;">ロビー<br>チェアー</div>
<div class="nav" style="top:1726px;">カウンター</div>
<div class="nav" style="top:1779px;">金　庫</div>
<div class="nav" style="top:1833px;color:#fff;font-weight:bold;font-size:11px;letter-spacing:-0.8px;">防災･セキュリティー<br>用品</div>
<div class="nav" style="top:1887px;">アクセサリー</div>
<div class="nav" style="top:1941px;">間仕切り･<br>建材</div>
<div class="nav" style="top:1995px;">ラック･<br>工場備品</div>
<div class="nav" style="top:2049px;"><span style="font-size:10.5px;letter-spacing:-0.8px;">福祉医療施設用</span><br>家具</div>
<div class="nav" style="top:2103px;">学校用家具</div>
<div class="nav" style="top:2157px;">店舗用家具</div>

<!-- legend -->
<div class="t c" style="left:180.5px;top:2267px;font-size:15px;font-weight:bold;letter-spacing:-0.6px;">納期マーク説明</div>
<div class="lg" style="left:266px;top:2242px;letter-spacing:6.5px;">推奨商品</div>
<div class="lg" style="left:362px;top:2244px;font-size:11.2px;letter-spacing:0;">・・・・・・・・・・・・・・・・・</div>
<div style="position:absolute;left:557px;top:2233px;width:18px;height:18px;border-radius:50%;background:#1a9ad6;"></div>
<div class="lg" style="left:577px;top:2242px;">お早めにお届けできる商品です。</div>
<div class="lg" style="left:860px;top:2242px;font-size:17px;color:#1a8a3a;">◆</div>
<div class="lg" style="left:880px;top:2242px;">納入までに２週間程度必要です。</div>
<div style="position:absolute;left:1192px;top:2233px;width:17px;height:18px;background:#ffcc00;"></div>
<div class="lg" style="left:1211px;top:2242px;">納入までに３～４週間程度必要です。</div>

<div style="position:absolute;left:266px;top:2258px;width:15px;height:15px;border-radius:50%;background:#e6e6e6;border:1.5px solid #888;"></div>
<div class="lg" style="left:285px;top:2267px;">お早めにお届けできる商品です。</div>
<div class="lg" style="left:557px;top:2267px;font-size:17px;color:#666;">◇</div>
<div class="lg" style="left:576px;top:2267px;">納入までに２週間程度必要です。</div>
<div style="position:absolute;left:861px;top:2257px;width:14px;height:18px;background:#dedede;border:1.5px solid #888;"></div>
<div class="lg" style="left:880px;top:2267px;">納入までに３～４週間程度必要です。</div>
<div style="position:absolute;left:1192px;top:2258px;width:15px;height:15px;border-radius:50%;border:1.5px solid #e4007f;color:#e4007f;font-size:11px;line-height:15px;text-align:center;">受</div>
<div class="lg" style="left:1211px;top:2267px;">受注生産品のため納期をご確認ください。</div>
<div class="lg" style="left:266px;top:2294px;font-size:15.8px;">※納期につきましては時期や地域により異なる場合があります。事前に担当者にお問合せください。</div>

<!-- footer -->
<div class="t" style="left:1496px;top:2284px;font-size:28px;color:#8a8a8a;transform:scaleX(0.82);transform-origin:left top;">NAIKI</div>
<div class="t" style="left:1583px;top:2284px;font-size:28px;color:#111;transform:scaleX(0.8);transform-origin:left top;">671</div>

</div></body></html>
